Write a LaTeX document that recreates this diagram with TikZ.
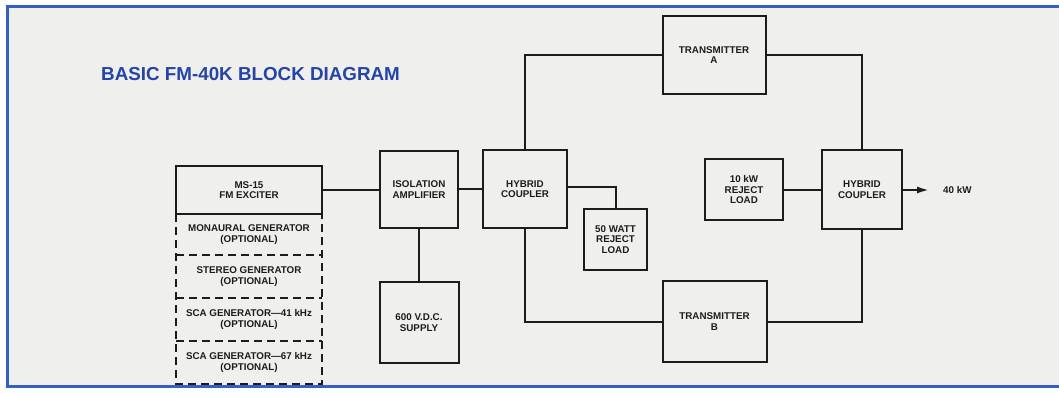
\documentclass[tikz,border=0pt]{standalone}
\usepackage{fontspec}
\setmainfont{Liberation Sans}
\usetikzlibrary{arrows.meta}
\definecolor{paper}{RGB}{239,239,235}
\definecolor{frameblue}{RGB}{52,96,196}
\definecolor{titleblue}{RGB}{36,68,170}
\definecolor{ink}{RGB}{28,28,28}
\begin{document}
\begin{tikzpicture}[x=1pt,y=-1pt,
  box/.style={draw=ink, line width=2pt, fill=paper, align=center, inner sep=0pt,
    font=\fontsize{9.8}{10.5}\selectfont\bfseries, text=ink},
  optbox/.style={align=center, inner sep=0pt,
    font=\fontsize{9.8}{10.5}\selectfont\bfseries, text=ink},
  optline/.style={draw=ink, line width=2pt, dash pattern=on 8pt off 5pt},
  wire/.style={draw=ink, line width=2pt},
  title/.style={font=\fontsize{18.8}{20}\selectfont\bfseries, text=titleblue, inner sep=0pt}]
% page and frame
\useasboundingbox (0,0) rectangle (1059,393);
\fill[white!97!paper] (0,0) rectangle (1059,393);
\fill[paper] (7,7) rectangle (1059,386);
\draw[frameblue, line width=3pt] (1059,7) -- (7,7) -- (7,386) -- (1059,386);

\node[title, anchor=base west] (ttl) at (101,81) {BASIC FM-40K BLOCK DIAGRAM};

% exciter and its optional generators
\node[box, minimum width=146pt, minimum height=48pt] (exc) at (249,190) {MS-15\\FM EXCITER};
\draw[optline] (176,214) -- (176,384) -- (322,384) -- (322,214);
\draw[optline] (176,255) -- (322,255);
\draw[optline] (176,298) -- (322,298);
\draw[optline] (176,341) -- (322,341);
\node[optbox] (mono) at (249,234.5) {MONAURAL GENERATOR\\(OPTIONAL)};
\node[optbox] (stereo) at (249,276.5) {STEREO GENERATOR\\(OPTIONAL)};
\node[optbox] (scaA) at (249,319.5) {SCA GENERATOR—41 kHz\\(OPTIONAL)};
\node[optbox] (scaB) at (249,362.5) {SCA GENERATOR—67 kHz\\(OPTIONAL)};

% main chain
\node[box, minimum width=78pt, minimum height=77pt] (iso) at (419,189.5) {ISOLATION\\AMPLIFIER};
\node[box, minimum width=79pt, minimum height=81pt] (vdc) at (419,322.5) {600 V.D.C.\\SUPPLY};
\node[box, minimum width=84pt, minimum height=78pt] (hybA) at (525,189) {HYBRID\\COUPLER};
\node[box, minimum width=63pt, minimum height=61pt] (ld50) at (615.5,239.5) {50 WATT\\REJECT\\LOAD};
\node[box, minimum width=103pt, minimum height=78pt] (txA) at (714,55) {TRANSMITTER\\A};
\node[box, minimum width=104pt, minimum height=81pt] (txB) at (714.5,321.5) {TRANSMITTER\\B};
\node[box, minimum width=78pt, minimum height=61pt] (ld10) at (744,189.5) {10 kW\\REJECT\\LOAD};
\node[box, minimum width=80pt, minimum height=79pt] (hybB) at (862,189.5) {HYBRID\\COUPLER};
\node[optbox, anchor=west] (out) at (943,190) {40 kW};

% connections
\draw[wire] (exc.east) -- (exc.east -| iso.west);
\draw[wire] (iso.south) -- (vdc.north);
\draw[wire] (iso.east |- hybA.west) -- (hybA.west);
\draw[wire] (hybA.north) |- (txA.west);
\draw[wire] (hybA.south) |- (txB.west);
\draw[wire] ([yshift=2pt]hybA.east) -| (ld50.north);
\draw[wire] (txA.east) -| (hybB.north);
\draw[wire] (txB.east) -| (hybB.south);
\draw[wire] (ld10.east) -- (ld10.east -| hybB.west);
\draw[wire, -{Latex[length=12pt,width=7pt]}, shorten >=14pt] (hybB.east |- out.west) -- (out.west);
\end{tikzpicture}
\end{document}
